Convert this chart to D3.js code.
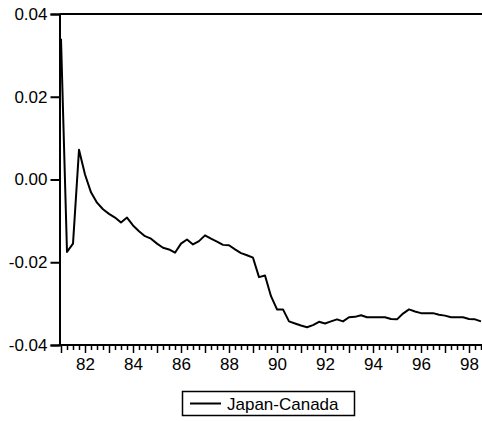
<!DOCTYPE html>
<html>
<head>
<meta charset="utf-8">
<script src="https://cdn.jsdelivr.net/npm/d3@7"></script>
<style>
  html, body { margin: 0; padding: 0; background: #fff; }
  svg { display: block; }
  text { font-family: "Liberation Sans", Arial, sans-serif; fill: #000; }
</style>
</head>
<body>
<svg id="chart" width="482" height="421"></svg>
<script>
// Quarterly series, 1981Q1 onward
const startYear = 1981;
const seriesName = "Japan-Canada";
const values = [
  0.0340, -0.0175, -0.0155, 0.0072,
  0.0012, -0.0031, -0.0056, -0.0072,
  -0.0083, -0.0092, -0.0104, -0.0092,
  -0.0111, -0.0125, -0.0137, -0.0143,
  -0.0155, -0.0165, -0.0169, -0.0177,
  -0.0155, -0.0145, -0.0157, -0.0149,
  -0.0135, -0.0143, -0.0150, -0.0158,
  -0.0159, -0.0169, -0.0178, -0.0183,
  -0.0189, -0.0236, -0.0232, -0.0282,
  -0.0314, -0.0314, -0.0343, -0.0348,
  -0.0353, -0.0357, -0.0352, -0.0344,
  -0.0348, -0.0343, -0.0338, -0.0343,
  -0.0333, -0.0332, -0.0328, -0.0333,
  -0.0333, -0.0333, -0.0333, -0.0337,
  -0.0338, -0.0324, -0.0314, -0.0319,
  -0.0323, -0.0323, -0.0323, -0.0327,
  -0.0329, -0.0333, -0.0333, -0.0333,
  -0.0337, -0.0338, -0.0343
];
const yTicks = [-0.04, -0.02, 0.00, 0.02, 0.04];
const xLabelYears = [1982, 1984, 1986, 1988, 1990, 1992, 1994, 1996, 1998];

const svg = d3.select("#chart");
const W = 482, H = 421;
const plotLeft = 59.5, plotTop = 14, plotBottom = 345;

const x = d3.scaleLinear().domain([1981, 1999]).range([61, 61 + 18 * 24]);
const y = d3.scaleLinear().domain([-0.04, 0.04]).range([plotBottom, plotTop]);

const data = values.map((v, i) => ({ t: startYear + i / 4, v }));

// frame: top border
svg.append("line").attr("x1", plotLeft).attr("x2", W).attr("y1", plotTop).attr("y2", plotTop)
  .attr("stroke", "#000").attr("stroke-width", 2);

// y axis
const yAxis = d3.axisLeft(y).tickValues(yTicks).tickSize(9).tickPadding(3)
  .tickFormat(d => d3.format(".2f")(d).replace("\u2212", "-"));
const gy = svg.append("g").attr("transform", `translate(${plotLeft},0)`).call(yAxis);
gy.select(".domain").attr("stroke-width", 2);
gy.selectAll(".tick line").attr("stroke-width", 2);
gy.selectAll(".tick text").attr("font-size", 17)
  .attr("font-family", "Liberation Sans, Arial, sans-serif").attr("fill", "#000");

// x axis: quarterly minor ticks, yearly major ticks
const gx = svg.append("g").attr("transform", `translate(0,${plotBottom})`);
gx.append("line").attr("x1", plotLeft - 1).attr("x2", W).attr("y1", 0).attr("y2", 0)
  .attr("stroke", "#000").attr("stroke-width", 2);
const quarters = d3.range(0, 18 * 4).map(i => startYear + i / 4).filter(t => x(t) <= W);
const minorAxis = d3.axisBottom(x).tickValues(quarters.filter((t, i) => i % 4 !== 0))
  .tickSize(5).tickFormat("");
const majorAxis = d3.axisBottom(x).tickValues(quarters.filter((t, i) => i % 4 === 0))
  .tickSize(8).tickFormat("");
const gMinor = gx.append("g").call(minorAxis);
const gMajor = gx.append("g").call(majorAxis);
[gMinor, gMajor].forEach(g => {
  g.select(".domain").remove();
  g.selectAll(".tick line").attr("stroke-width", 1.5);
});
const labelAxis = d3.axisBottom(x).tickValues(xLabelYears).tickSize(0).tickPadding(13)
  .tickFormat(d => String(d % 100).padStart(2, "0"));
const gLab = gx.append("g").call(labelAxis);
gLab.select(".domain").remove();
gLab.selectAll(".tick text").attr("font-size", 17)
  .attr("font-family", "Liberation Sans, Arial, sans-serif").attr("fill", "#000");

// series line
const line = d3.line().x(d => x(d.t)).y(d => y(d.v));
svg.append("path").datum(data).attr("d", line)
  .attr("fill", "none").attr("stroke", "#000").attr("stroke-width", 2)
  .attr("stroke-linejoin", "round");

// legend
const lg = svg.append("g");
lg.append("rect").attr("x", 182.5).attr("y", 391.5).attr("width", 172).attr("height", 24)
  .attr("fill", "#fff").attr("stroke", "#000").attr("stroke-width", 1.5);
lg.append("line").attr("x1", 190).attr("x2", 221).attr("y1", 403.5).attr("y2", 403.5)
  .attr("stroke", "#000").attr("stroke-width", 2);
lg.append("text").attr("x", 227).attr("y", 410).attr("font-size", 17).text(seriesName);
</script>
</body>
</html>
